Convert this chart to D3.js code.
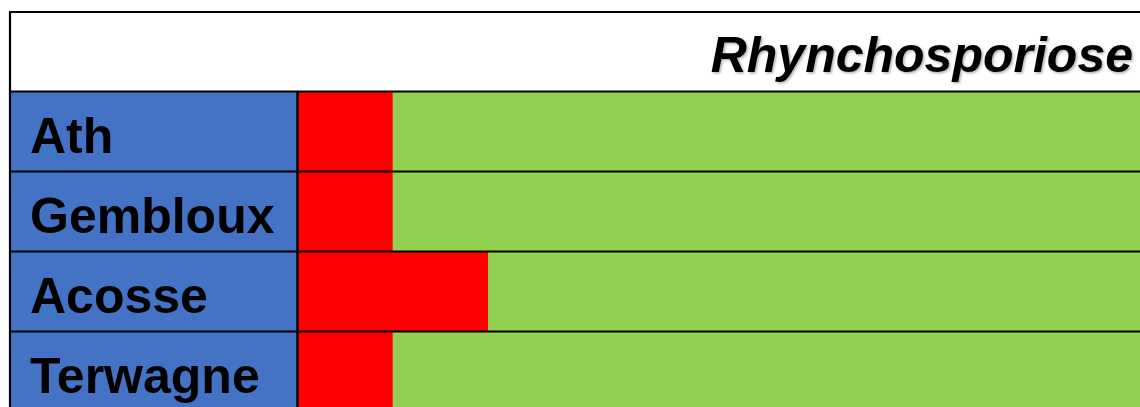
<!DOCTYPE html>
<meta charset="utf-8">
<script src="https://d3js.org/d3.v7.js"></script>
<style>
  body { margin: 0; background: #fff; }
  text { font-family: "Liberation Sans", Arial, sans-serif; font-weight: bold; }
</style>
<div id="my_dataviz"></div>
<script>

// sites (rows) and the length of the red period for each, in units
const sites = ["Ath", "Gembloux", "Acosse", "Terwagne"];
const redLength = [1, 1, 2, 1];
const totalLength = 9;
const title = "Rhynchosporiose";

const width = 1140, height = 407;
const tableLeft = 10, tableTop = 12, labelRight = 297.5, rowH = 80;

const svg = d3.select("#my_dataviz")
  .append("svg")
    .attr("width", width)
    .attr("height", height)
    .style("display", "block");

// drop shadow for the title
const defs = svg.append("defs");
defs.append("filter")
    .attr("id", "shadow")
    .attr("x", "-5%").attr("y", "-20%")
    .attr("width", "110%").attr("height", "140%")
  .append("feDropShadow")
    .attr("dx", 1.5).attr("dy", 1.5)
    .attr("stdDeviation", 1)
    .attr("flood-color", "#000")
    .attr("flood-opacity", 0.3);

// scales
const x = d3.scaleLinear()
  .domain([0, totalLength])
  .range([labelRight, labelRight + totalLength * 95.3]);

const y = d3.scaleBand()
  .domain(sites)
  .range([tableTop + rowH - 0.5, tableTop + rowH - 0.5 + sites.length * rowH]);

const rows = sites.map((s, i) => ({site: s, red: redLength[i]}));

// header cell
svg.append("rect")
  .attr("x", tableLeft).attr("y", tableTop)
  .attr("width", x(totalLength) - tableLeft).attr("height", rowH)
  .style("fill", "#fff");

svg.append("text")
  .attr("x", 1133)
  .attr("y", 72)
  .attr("text-anchor", "end")
  .style("font-size", "50px")
  .style("font-style", "italic")
  .attr("filter", "url(#shadow)")
  .text(title);

// label cells
svg.selectAll(".label")
  .data(rows)
  .join("rect")
    .attr("class", "label")
    .attr("x", tableLeft)
    .attr("y", d => y(d.site))
    .attr("width", labelRight - tableLeft)
    .attr("height", y.bandwidth())
    .style("fill", "#4472C4");

// green (rest of the period)
svg.selectAll(".green")
  .data(rows)
  .join("rect")
    .attr("class", "green")
    .attr("x", d => x(d.red))
    .attr("y", d => y(d.site))
    .attr("width", d => x(totalLength) - x(d.red))
    .attr("height", y.bandwidth())
    .style("fill", "#92D050");

// red bars
svg.selectAll(".red")
  .data(rows)
  .join("rect")
    .attr("class", "red")
    .attr("x", x(0))
    .attr("y", d => y(d.site))
    .attr("width", d => x(d.red) - x(0))
    .attr("height", y.bandwidth())
    .style("fill", "#FF0000");

// labels
svg.selectAll(".site")
  .data(rows)
  .join("text")
    .attr("class", "site")
    .attr("x", 30)
    .attr("y", d => y(d.site) + 61)
    .style("font-size", "50px")
    .style("fill", "#000")
    .text(d => d.site);

// grid lines
const tableRight = x(totalLength);
const hLines = [tableTop, ...sites.map(s => y(s))];
svg.selectAll(".hline")
  .data(hLines)
  .join("line")
    .attr("class", "hline")
    .attr("x1", tableLeft - 1).attr("x2", tableRight)
    .attr("y1", d => d).attr("y2", d => d)
    .style("stroke", "#000")
    .style("stroke-width", 2.2);

svg.append("line")
  .attr("x1", tableLeft).attr("x2", tableLeft)
  .attr("y1", tableTop).attr("y2", height + 10)
  .style("stroke", "#000")
  .style("stroke-width", 2.2);

svg.append("line")
  .attr("x1", labelRight).attr("x2", labelRight)
  .attr("y1", y(sites[0])).attr("y2", height + 10)
  .style("stroke", "#000")
  .style("stroke-width", 2.5);

</script>
